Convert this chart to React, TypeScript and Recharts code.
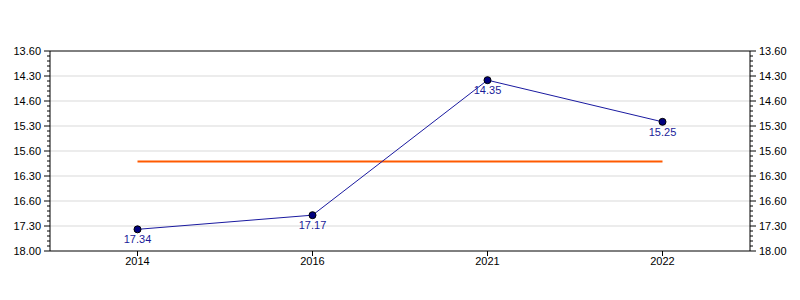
import { LineChart, Line, XAxis, YAxis, ReferenceLine, LabelList } from 'recharts';

// times are minutes.seconds, as printed on the chart
const years = ['2014', '2016', '2021', '2022'];
const times = [17.34, 17.17, 14.35, 15.25];
const averageTime = 16.21; // decimal minutes

const majorTicks = [14, 14.5, 15, 15.5, 16, 16.5, 17, 17.5, 18];
const majorLabels = ['13.60', '14.30', '14.60', '15.30', '15.60', '16.30', '16.60', '17.30', '18.00'];
const minorTicks = [
    14, 14.1, 14.2, 14.3, 14.4, 14.5, 14.6, 14.7, 14.8, 14.9,
    15, 15.1, 15.2, 15.3, 15.4, 15.5, 15.6, 15.7, 15.8, 15.9,
    16, 16.1, 16.2, 16.3, 16.4, 16.5, 16.6, 16.7, 16.8, 16.9,
    17, 17.1, 17.2, 17.3, 17.4, 17.5, 17.6, 17.7, 17.8, 17.9, 18,
];

const toMinutes = (t: number) => {
    const m = Math.floor(t);
    const s = Math.round((t - m) * 100);
    return m + s / 60;
};

const data = years.map((year, i) => ({
    year,
    value: toMinutes(times[i]),
    label: times[i].toFixed(2),
    avg: averageTime,
}));

const font = '"Liberation Sans", Arial, sans-serif';

const makeTick = (side: 'left' | 'right') => (props: any) => {
    const { x, y, payload } = props;
    const v = payload.value;
    const idx = majorTicks.findIndex((m) => Math.abs(m - v) < 1e-6);
    const major = idx >= 0;
    const len = major ? 6 : 3;
    const dir = side === 'left' ? -1 : 1;
    return (
        <g>
            <line x1={x} x2={x + dir * len} y1={y} y2={y} stroke="#000" />
            {major && (
                <text
                    x={x + dir * 9}
                    y={y}
                    dy={4}
                    textAnchor={side === 'left' ? 'end' : 'start'}
                    fontSize={11}
                    fontFamily={font}
                    fill="#000"
                >
                    {majorLabels[idx]}
                </text>
            )}
        </g>
    );
};

const App = () => {
    return (
        <div style={{ position: 'absolute', left: 0, top: 0, background: '#fff' }}>
            <LineChart width={800} height={300} data={data} margin={{ top: 51, right: 0, bottom: 19, left: 0 }}>
                {majorTicks.slice(1, -1).map((v) => (
                    <ReferenceLine key={v} yAxisId="left" y={v} stroke="#d9d9d9" />
                ))}
                <ReferenceLine yAxisId="left" y={14} stroke="#000" />
                <XAxis
                    dataKey="year"
                    padding={{ left: 87.5, right: 87.5 }}
                    axisLine={{ stroke: '#000' }}
                    tickLine={{ stroke: '#000' }}
                    tickSize={5}
                    tickMargin={1}
                    height={30}
                    tick={{ fill: '#000', fontSize: 11, fontFamily: font }}
                />
                <YAxis
                    yAxisId="left"
                    width={50}
                    reversed
                    domain={[14, 18]}
                    allowDataOverflow
                    ticks={minorTicks}
                    interval={0}
                    type="number"
                    tickSize={0}
                    tickMargin={0}
                    tickLine={false}
                    axisLine={{ stroke: '#000' }}
                    tick={makeTick('left')}
                />
                <YAxis
                    yAxisId="right"
                    orientation="right"
                    width={50}
                    reversed
                    domain={[14, 18]}
                    allowDataOverflow
                    ticks={minorTicks}
                    interval={0}
                    type="number"
                    tickSize={0}
                    tickMargin={0}
                    tickLine={false}
                    axisLine={{ stroke: '#000' }}
                    tick={makeTick('right')}
                />
                <Line
                    yAxisId="right"
                    dataKey="value"
                    stroke="none"
                    dot={false}
                    activeDot={false}
                    isAnimationActive={false}
                />
                <Line
                    yAxisId="left"
                    dataKey="avg"
                    stroke="#ff5a00"
                    strokeWidth={2}
                    dot={false}
                    activeDot={false}
                    isAnimationActive={false}
                />
                <Line
                    yAxisId="left"
                    dataKey="value"
                    stroke="#1a1aa0"
                    strokeWidth={1}
                    dot={{ r: 3.5, fill: '#000080', stroke: '#000', strokeWidth: 1 }}
                    activeDot={false}
                    isAnimationActive={false}
                >
                    <LabelList dataKey="label" position="bottom" offset={6} fill="#1a1a99" fontSize={11} fontFamily={font} />
                </Line>
            </LineChart>
        </div>
    );
};

export default App;
